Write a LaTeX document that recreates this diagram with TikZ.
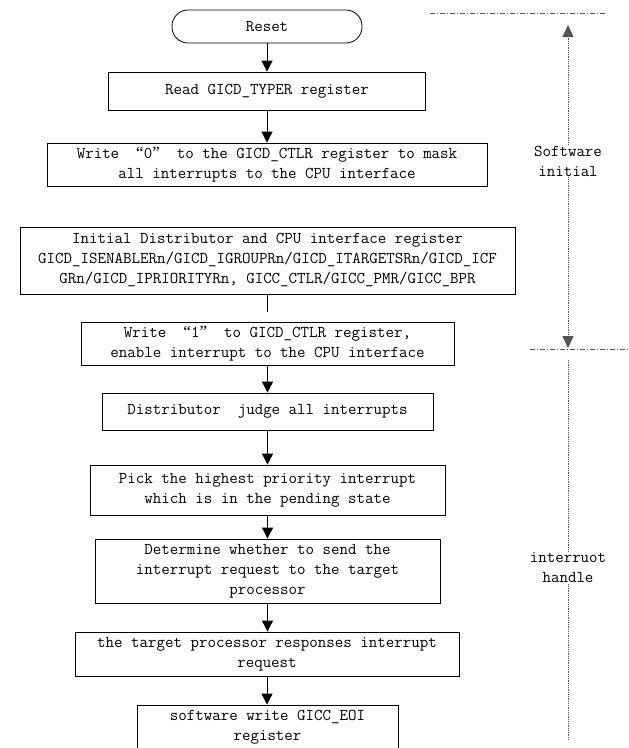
\documentclass[tikz,border=0pt]{standalone}
\usepackage{fontspec}
\newfontfamily\quotefont{Liberation Serif}
\usetikzlibrary{arrows.meta}
\newcommand\boxfont{\ttfamily\fontsize{16.5}{20}\selectfont}
\newcommand\myopenq{{\quotefont\fontsize{17}{20}\selectfont “}}
\newcommand\mycloseq{{\quotefont\fontsize{17}{20}\selectfont ”}}
\definecolor{guidegray}{HTML}{555555}
\tikzset{
  box/.style={draw=black, line width=0.8pt, rectangle, inner sep=0pt, align=center, font=\boxfont},
  startbox/.style={box, rounded corners=16pt},
  flow/.style={-{Triangle[width=11pt,length=11pt]}, line width=0.8pt},
  plainline/.style={line width=0.8pt},
  guide/.style={draw=guidegray, densely dotted, line width=0.8pt},
  guidearrow/.style={guide, -{Triangle[width=11pt,length=12pt]}},
  sepline/.style={draw=guidegray, dash pattern=on 5pt off 2pt on 1pt off 2pt, line width=0.8pt},
  lbl/.style={align=center, font=\boxfont, inner sep=1pt}
}
\begin{document}
\begin{tikzpicture}[x=1pt,y=-1pt]
\useasboundingbox[fill=white] (0,0) rectangle (629,748);

% flow boxes
\node[startbox, minimum width=190pt, minimum height=33pt] (reset) at (267,26.5) {Reset};
\node[box, minimum width=317pt, minimum height=38pt] (read) at (267,91) {Read GICD\_TYPER register};
\node[box, minimum width=440pt, minimum height=43pt] (w0) at (267,164.5) {Write~~\myopenq 0\mycloseq~~to the GICD\_CTLR register to mask\\all interrupts to the CPU interface};
\node[box, minimum width=495pt, minimum height=67pt] (init) at (267.5,260.5) {Initial Distributor and CPU interface register\\GICD\_ISENABLERn/GICD\_IGROUPRn/GICD\_ITARGETSRn/GICD\_ICF\\GRn/GICD\_IPRIORITYRn, GICC\_CTLR/GICC\_PMR/GICC\_BPR};
\node[box, minimum width=373pt, minimum height=43pt] (w1) at (267.5,343.5) {Write~~\myopenq 1\mycloseq~~to GICD\_CTLR register,\\enable interrupt to the CPU interface};
\node[box, minimum width=331pt, minimum height=37pt] (dist) at (267.5,411.5) {Distributor~~judge all interrupts};
\node[box, minimum width=355pt, minimum height=50pt] (pick) at (267.5,490) {Pick the highest priority interrupt\\which is in the pending state};
\node[box, minimum width=345pt, minimum height=64pt] (det) at (267.5,571) {Determine whether to send the\\interrupt request to the target\\processor};
\node[box, minimum width=384pt, minimum height=44pt] (tgt) at (267,654) {the target processor responses interrupt\\request};
\node[box, minimum width=261pt, minimum height=44pt] (sw) at (267.5,727) {software write GICC\_EOI\\register};

% connectors
\coordinate (gap) at (267.5,312);
\draw[flow] (reset.south) -- (reset.south |- read.north);
\draw[flow] (read.south) -- (read.south |- w0.north);
\draw[plainline] (init.south) -- (gap);
\draw[flow] (w1.south) -- (w1.south |- dist.north);
\draw[flow] (dist.south) -- (dist.south |- pick.north);
\draw[flow] (pick.south) -- (pick.south |- det.north);
\draw[flow] (det.south) -- (det.south |- tgt.north);
\draw[flow] (tgt.south) -- (tgt.south |- sw.north);

% right side phase markers
\coordinate (s1a) at (430,13);
\coordinate (s1b) at (607,13);
\coordinate (s2a) at (530,349);
\coordinate (s2b) at (629,349);
\draw[sepline] (s1a) -- (s1b);
\draw[sepline] (s2a) -- (s2b);

\coordinate (swtop) at (568,25);
\coordinate (swbot) at (568,348);
\node[lbl] (swl) at (568,161) {Software\\initial};
\draw[guidearrow] (swl) -- (swtop);
\draw[guidearrow] (swl) -- (swbot);

\coordinate (ihtop) at (568,360);
\coordinate (ihbot) at (568,740);
\node[lbl] (ihl) at (568,568) {interruot\\handle};
\draw[guide] (ihtop) -- (ihl);
\draw[guide] (ihl) -- (ihbot);
\end{tikzpicture}
\end{document}
